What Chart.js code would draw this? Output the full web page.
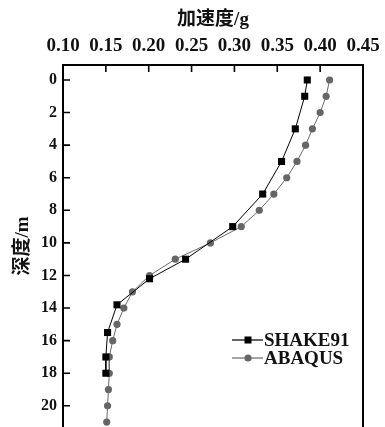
<!DOCTYPE html>
<html>
<head>
<meta charset="utf-8">
<script src="https://cdn.jsdelivr.net/npm/chart.js@4/dist/chart.umd.min.js"></script>
<style>
html,body{margin:0;padding:0;background:#fff;}
#wrap{width:385px;height:427px;}
</style>
</head>
<body>
<div id="wrap"><canvas id="c" width="385" height="427"></canvas></div>
<script>
// ---- data ----
const xTitle = '加速度/g';
const yTitle = '深度/m';
const xTicks = [0.10, 0.15, 0.20, 0.25, 0.30, 0.35, 0.40, 0.45];
const yTicks = [0, 2, 4, 6, 8, 10, 12, 14, 16, 18, 20];
const seriesNames = ['SHAKE91', 'ABAQUS'];
const shakeDepth = [0, 1, 3, 5, 7, 9, 11, 12.2, 13.8, 15.5, 17, 18];
const shakeAcc = [0.385, 0.382, 0.371, 0.355, 0.333, 0.298, 0.243, 0.201, 0.163, 0.152, 0.150, 0.150];
const abaqusDepth = [0, 1, 2, 3, 4, 5, 6, 7, 8, 9, 10, 11, 12, 13, 14, 15, 16, 17, 18, 19, 20, 21];
const abaqusAcc = [0.411, 0.407, 0.400, 0.391, 0.383, 0.373, 0.361, 0.346, 0.329, 0.308, 0.272, 0.231, 0.201, 0.181, 0.171, 0.163, 0.158, 0.154, 0.154, 0.153, 0.152, 0.151];

const serif = "'Liberation Serif', 'Noto Sans CJK SC', serif";

const framePlugin = {
  id: 'frame',
  afterDraw(chart) {
    const { ctx, chartArea: a, scales: { x, y } } = chart;
    ctx.save();
    ctx.strokeStyle = '#000';
    ctx.lineWidth = 2;
    ctx.beginPath();
    ctx.moveTo(a.left, chart.height + 2);
    ctx.lineTo(a.left, a.top);
    ctx.lineTo(a.right, a.top);
    ctx.lineTo(a.right, chart.height + 2);
    ctx.stroke();
    ctx.lineWidth = 1.6;
    ctx.beginPath();
    x.ticks.forEach(t => {
      const px = x.getPixelForValue(t.value);
      if (px > a.left + 2 && px < a.right - 2) { ctx.moveTo(px, a.top); ctx.lineTo(px, a.top + 7); }
    });
    y.ticks.forEach(t => {
      const py = y.getPixelForValue(t.value);
      ctx.moveTo(a.left, py); ctx.lineTo(a.left + 7, py);
    });
    ctx.stroke();
    // legend
    chart.data.datasets.forEach((ds, i) => {
      const ly = 340 + i * 18;
      ctx.strokeStyle = ds.borderColor;
      ctx.lineWidth = 1.2;
      ctx.beginPath();
      ctx.moveTo(232, ly); ctx.lineTo(263, ly);
      ctx.stroke();
      ctx.fillStyle = ds.pointBackgroundColor;
      if (ds.pointStyle === 'rect') {
        ctx.fillRect(244.5, ly - 3.5, 7, 7);
      } else {
        ctx.beginPath(); ctx.arc(248, ly, 3.6, 0, Math.PI * 2); ctx.fill();
      }
      ctx.fillStyle = '#111';
      ctx.font = "bold 19px " + serif;
      ctx.textAlign = 'left';
      ctx.textBaseline = 'middle';
      ctx.fillText(ds.label, 264, ly + 1);
    });
    ctx.restore();
  }
};

const toPts = (xs, ys) => xs.map((v, i) => ({ x: v, y: ys[i] }));

new Chart(document.getElementById('c'), {
  type: 'scatter',
  data: {
    datasets: [
      {
        label: seriesNames[0],
        data: toPts(shakeAcc, shakeDepth),
        showLine: true,
        borderColor: '#000',
        borderWidth: 1,
        pointStyle: 'rect',
        pointRadius: 5,
        pointBackgroundColor: '#000',
        pointBorderColor: '#000',
        pointBorderWidth: 0,
        clip: false
      },
      {
        label: seriesNames[1],
        data: toPts(abaqusAcc, abaqusDepth),
        showLine: true,
        borderColor: '#6a6a6a',
        borderWidth: 1,
        pointStyle: 'circle',
        pointRadius: 3.6,
        pointBackgroundColor: '#666',
        pointBorderColor: '#666',
        pointBorderWidth: 0,
        clip: false
      }
    ]
  },
  options: {
    responsive: false,
    animation: false,
    layout: { autoPadding: false, padding: { left: 0, right: 22, top: 0, bottom: 0 } },
    plugins: { legend: { display: false }, tooltip: { enabled: false } },
    scales: {
      x: {
        type: 'linear',
        position: 'top',
        min: 0.10,
        max: 0.45,
        afterBuildTicks: s => { s.ticks = xTicks.map(v => ({ value: v })); },
        afterFit: s => { s.height = 65; s.paddingLeft = 0; s.paddingRight = 0; s.paddingTop = 0; s.paddingBottom = 0; },
        grid: { display: false, drawTicks: false },
        border: { display: false },
        ticks: {
          padding: 8,
          color: '#111',
          font: { family: serif, size: 19, weight: 'bold' },
          maxRotation: 0,
          autoSkip: false,
          callback: v => Number(v).toFixed(2)
        },
        title: {
          display: true,
          text: xTitle,
          color: '#111',
          font: { family: serif, size: 19, weight: 'bold' },
          padding: { top: 9, bottom: 0 }
        }
      },
      y: {
        type: 'linear',
        reverse: true,
        min: -0.92,
        max: 21.3,
        afterBuildTicks: s => { s.ticks = yTicks.map(v => ({ value: v })); },
        afterFit: s => { s.width = 63; s.paddingLeft = 0; s.paddingRight = 0; s.paddingTop = 0; s.paddingBottom = 0; },
        grid: { display: false, drawTicks: false },
        border: { display: false },
        ticks: {
          padding: 6,
          color: '#111',
          font: { family: serif, size: 16, weight: 'bold' },
          autoSkip: false
        },
        title: {
          display: true,
          text: yTitle,
          color: '#111',
          font: { family: serif, size: 19, weight: 'bold' },
          padding: { top: 12, bottom: 0 }
        }
      }
    }
  },
  plugins: [framePlugin]
});
</script>
</body>
</html>
